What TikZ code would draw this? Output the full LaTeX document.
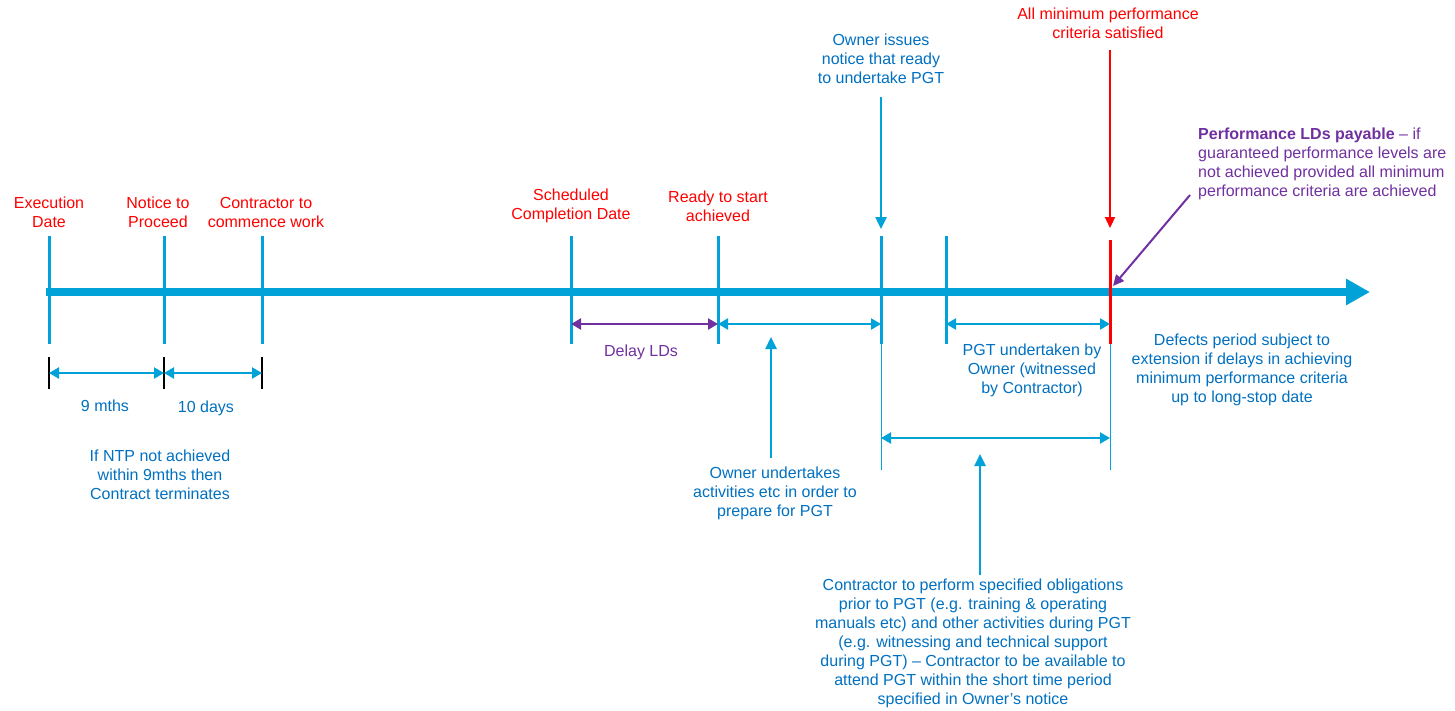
\documentclass[tikz,border=0pt]{standalone}
\usepackage{fontspec}
\setmainfont{Liberation Sans}
\usetikzlibrary{arrows.meta}
\definecolor{lineblue}{RGB}{0,162,215}
\definecolor{textblue}{RGB}{0,112,192}
\definecolor{myred}{RGB}{255,0,0}
\definecolor{mypurple}{RGB}{112,48,160}
\tikzset{
  lbl/.style={align=center,inner sep=0pt,font=\fontsize{16}{19}\selectfont},
  redlbl/.style={lbl,text=myred},
  bluelbl/.style={lbl,text=textblue},
  tick/.style={draw=lineblue,line width=3pt},
  thinline/.style={draw=lineblue,line width=1pt},
  blacktick/.style={draw=black,line width=1.5pt},
  dbl/.style={draw=lineblue,line width=2.2pt,{Triangle[length=10pt,width=11pt]}-{Triangle[length=10pt,width=11pt]}},
  sgl/.style={draw=lineblue,line width=2.5pt,-{Triangle[length=12pt,width=11pt]}},
}
\begin{document}
\begin{tikzpicture}[x=1pt,y=-1pt]
\useasboundingbox (0,0) rectangle (1455,710);
% coordinates
\foreach \n/\x in {a/49,b/164,c/262,d/571,e/718,f/881,g/946}{
  \coordinate (top\n) at (\x,236);
  \coordinate (bot\n) at (\x,344);
}
\coordinate (toph) at (1110,240);
\coordinate (both) at (1110,344);
\coordinate (tl start) at (46,292);
\coordinate (tl end) at (1370,292);
% main timeline
\draw[draw=lineblue,line width=8pt,-{Triangle[length=24pt,width=25pt]}] (tl start) -- (tl end);
% ticks
\foreach \n in {a,b,c,d,e,f,g}{\draw[tick] (top\n) -- (bot\n);}
\draw[draw=myred,line width=3pt] (toph) -- (both);
% thin extensions
\coordinate (f low) at (881,470);
\coordinate (h low) at (1110,470);
\draw[thinline] (botf) -- (f low);
\draw[thinline] (both) -- (h low);
% black ticks
\foreach \n/\x in {a/49,b/164,c/262}{
  \coordinate (bt\n) at (\x,357);
  \coordinate (bb\n) at (\x,389);
  \draw[blacktick] (bt\n) -- (bb\n);
  \coordinate (m\n) at (\x,373);
}
\draw[dbl] (ma) -- (mb);
\draw[dbl] (mb) -- (mc);
\node[bluelbl] (nine) at (105,406) {9 mths};
\node[bluelbl] (ten) at (206,408) {10 days};
\node[bluelbl] (ntp) at (160,475) {If NTP not achieved\\within 9mths then\\Contract terminates};
% top labels
\node[redlbl] (exec) at (49,212) {Execution\\Date};
\node[redlbl] (notice) at (158,212) {Notice to\\Proceed};
\node[redlbl] (commence) at (266,212) {Contractor to\\commence work};
\node[redlbl] (sched) at (571,206) {Scheduled\\Completion Date};
\node[redlbl] (ready) at (718,206) {Ready to start\\achieved};
\node[bluelbl] (owner) at (881,59) {Owner issues\\notice that ready\\to undertake PGT};
\node[redlbl] (allmin) at (1108,23) {All minimum performance\\criteria satisfied};
\coordinate (owner arr) at (881,97);
\coordinate (owner tip) at (881,229);
\draw[sgl] (owner arr) -- (owner tip);
\coordinate (red arr) at (1110,50);
\coordinate (red tip) at (1110,228);
\draw[draw=myred,line width=2pt,-{Triangle[length=11pt,width=10pt]}] (red arr) -- (red tip);
% period arrows
\coordinate (d m) at (571,324);
\coordinate (e m) at (718,324);
\coordinate (f m) at (881,324);
\coordinate (g m) at (946,324);
\coordinate (h m) at (1110,324);
\draw[dbl,draw=mypurple] (d m) -- (e m);
\node[lbl,text=mypurple] (delay) at (641,352) {Delay LDs};
\draw[dbl] (e m) -- (f m);
\draw[dbl] (g m) -- (h m);
\node[bluelbl] (pgt) at (1032,370) {PGT undertaken by\\Owner (witnessed\\by Contractor)};
\coordinate (f m2) at (881,438);
\coordinate (h m2) at (1110,438);
\draw[dbl] (f m2) -- (h m2);
% owner undertakes
\node[bluelbl] (ownund) at (775,493) {Owner undertakes\\activities etc in order to\\prepare for PGT};
\coordinate (ou base) at (771,458);
\coordinate (ou tip) at (771,337);
\draw[sgl] (ou base) -- (ou tip);
% contractor obligations
\node[bluelbl] (contr) at (973,643) {Contractor to perform specified obligations\\prior to PGT (e.g. training \& operating\\manuals etc) and other activities during PGT\\(e.g. witnessing and technical support\\during PGT) -- Contractor to be available to\\attend PGT within the short time period\\specified in Owner's notice};
\coordinate (co base) at (980,575);
\coordinate (co tip) at (980,454);
\draw[sgl] (co base) -- (co tip);
% defects
\node[bluelbl] (defects) at (1242,370) {Defects period subject to\\extension if delays in achieving\\minimum performance criteria\\up to long-stop date};
% performance LDs
\node[lbl,align=left,text=mypurple,anchor=north west] (perf) at (1198,128) {\textbf{Performance LDs payable} -- if\\guaranteed performance levels are\\not achieved provided all minimum\\performance criteria are achieved};
\coordinate (perf start) at (1190,195);
\coordinate (perf tip) at (1113,286);
\draw[draw=mypurple,line width=2pt,-{Triangle[length=11pt,width=10pt]}] (perf start) -- (perf tip);
\end{tikzpicture}
\end{document}
